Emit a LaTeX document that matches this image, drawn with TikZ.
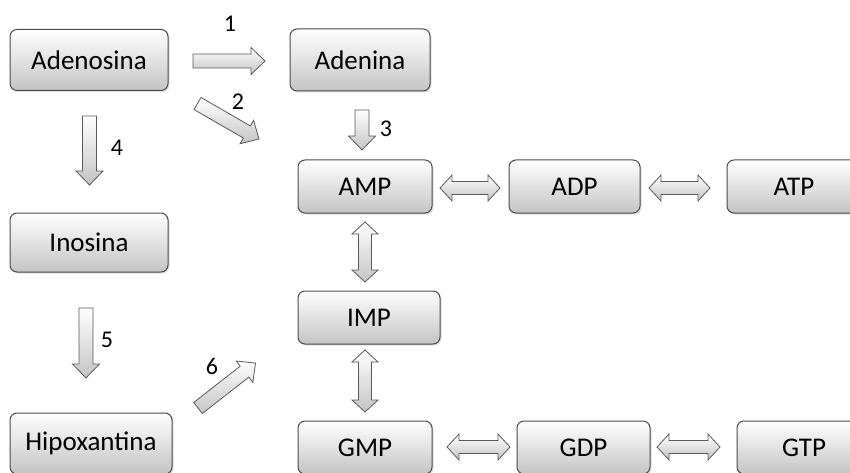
\documentclass[tikz,border=0pt]{standalone}
\usepackage{fontspec}
\setmainfont{Carlito}
\usetikzlibrary{shadows}
\definecolor{boxline}{HTML}{4A4A4A}
\definecolor{boxbot}{HTML}{C4C4C4}
\definecolor{arrline}{HTML}{5A5A5A}
\tikzset{
  box/.style={rectangle, rounded corners=7pt, draw=boxline, line width=1pt,
    top color=white, bottom color=boxbot, font=\fontsize{27}{31}\selectfont,
    inner sep=0pt, drop shadow={opacity=0.25, shadow xshift=1.5pt, shadow yshift=-1.5pt}},
  arrsty/.style={draw=arrline, line width=0.8pt, top color=white, bottom color=boxbot, line join=miter},
  num/.style={font=\fontsize{24}{28}\selectfont, inner sep=0pt},
  pics/sarrow/.style={code={
    \shade[arrsty] (0,-7) -- (#1-14,-7) -- (#1-14,-13.5) -- (#1,0) -- (#1-14,13.5) -- (#1-14,7) -- (0,7) -- cycle;}},
  pics/darrow/.style={code={
    \shade[arrsty] (12,-6.5) -- (#1-12,-6.5) -- (#1-12,-13) -- (#1,0) -- (#1-12,13) -- (#1-12,6.5)
      -- (12,6.5) -- (12,13) -- (0,0) -- (12,-13) -- (12,-6.5) -- cycle;}}
}
\begin{document}
\begin{tikzpicture}[x=1pt,y=-1pt]
\path[use as bounding box] (0,0) rectangle (850,473);
\clip (0,0) rectangle (850,473);
% nodes
\node[box, minimum width=158pt, minimum height=61pt] (adenosina) at (89,60) {Adenosina};
\node[box, minimum width=140pt, minimum height=62pt] (adenina) at (360,60) {Adenina};
\node[box, minimum width=134pt, minimum height=53pt] (amp) at (365,186.5) {AMP};
\node[box, minimum width=131pt, minimum height=53pt] (adp) at (574.5,186.5) {ADP};
\node[box, minimum width=134pt, minimum height=53pt] (atp) at (794,186.5) {ATP};
\node[box, minimum width=158pt, minimum height=59pt] (inosina) at (89,242.5) {Inosina};
\node[box, minimum width=142pt, minimum height=53pt] (imp) at (369,317.5) {IMP};
\node[box, minimum width=162pt, minimum height=61pt] (hipox) at (91,443.5) {Hipoxantina};
\node[box, minimum width=134pt, minimum height=53pt] (gmp) at (365,447.5) {GMP};
\node[box, minimum width=133pt, minimum height=53pt] (gdp) at (583.5,447.5) {GDP};
\node[box, minimum width=134pt, minimum height=53pt] (gtp) at (804,447.5) {GTP};
% single arrows
\pic at (193,61) {sarrow=72};
\pic[rotate=-30] at (197.5,103.5) {sarrow=71};
\pic[rotate=-90] at (362,110) {sarrow=40};
\pic[rotate=-90] at (89.5,116) {sarrow=69};
\pic[rotate=-90] at (86,308) {sarrow=70};
\pic[rotate=38] at (198,408) {sarrow=73};
% double arrows
\pic at (440,188) {darrow=60};
\pic at (649,188) {darrow=61};
\pic[rotate=-90] at (365,222) {darrow=60};
\pic[rotate=-90] at (365,350) {darrow=62};
\pic at (447,447) {darrow=63};
\pic at (657,447) {darrow=63};
% labels
\node[num] (n1) at (230,24) {1};
\node[num] (n2) at (238,102) {2};
\node[num] (n3) at (386,129) {3};
\node[num] (n4) at (117,148) {4};
\node[num] (n5) at (107,340) {5};
\node[num] (n6) at (212,366) {6};
\end{tikzpicture}
\end{document}
